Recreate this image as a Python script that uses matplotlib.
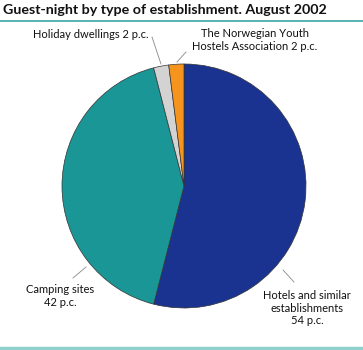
import matplotlib
matplotlib.use("Agg")
import matplotlib.pyplot as plt
import numpy as np

categories = ["Hotels and similar\nestablishments\n54 p.c.", "Camping sites\n42 p.c.",
              "Holiday dwellings 2 p.c.", "The Norwegian Youth\nHostels Association 2 p.c."]
values = [54, 42, 2, 2]
colors = ["#1b3390", "#1a9696", "#d3d3d3", "#f7941d"]

plt.rcParams['font.family'] = ['Open Sans', 'DejaVu Sans']

W, H = 363, 350
fig = plt.figure(figsize=(W / 100, H / 100), dpi=100)

cx, cy, R = 184, 186, 122
ax = fig.add_axes([(cx - R) / W, 1 - (cy + R) / H, 2 * R / W, 2 * R / H])
ax.pie(values, colors=colors, startangle=90, counterclock=False,
       wedgeprops=dict(edgecolor="#333333", linewidth=0.5))
ax.set_xlim(-1, 1)
ax.set_ylim(-1, 1)
ax.set_aspect('auto')
ax.axis('off')

def p(px, py):
    return ((px - cx) / R, (cy - py) / R)

# leader lines (pixel positions)
leaders = [((283, 270), (294, 282)),
           ((86, 267), (73, 278)),
           ((161, 64), (152, 37)),
           ((177, 62), (186, 52))]
for a, b in leaders:
    xa, ya = p(*a)
    xb, yb = p(*b)
    ax.plot([xa, xb], [ya, yb], color="#888888", lw=0.6, clip_on=False)

# label text positions (pixel, center)
text_pos = [(307, 308, 'center', 'center'),
            (60, 296, 'center', 'center'),
            (91, 34, 'center', 'center'),
            (255, 40, 'center', 'center')]
for lab, (tx, ty, ha, va) in zip(categories, text_pos):
    x, y = p(tx, ty)
    ax.text(x, y, lab, ha=ha, va=va, fontsize=8.0, color="#111111",
            family=['Lato', 'DejaVu Sans'], linespacing=1.2, clip_on=False)

fig.text(3 / W, 1 - 10.5 / H, "Guest-night by type of establishment. August 2002",
         ha='left', va='center', fontsize=10.3, fontweight='bold', color="#111111",
         family=['Lato', 'DejaVu Sans'])
fig.add_artist(plt.Line2D([0, 1], [1 - 20.5 / H, 1 - 20.5 / H], color="#3aa6a6", lw=1.2))
fig.add_artist(plt.Line2D([0, 1], [1 - 347.5 / H, 1 - 347.5 / H], color="#8fd0cc", lw=2.5))

fig.savefig("out.png", dpi=100)
